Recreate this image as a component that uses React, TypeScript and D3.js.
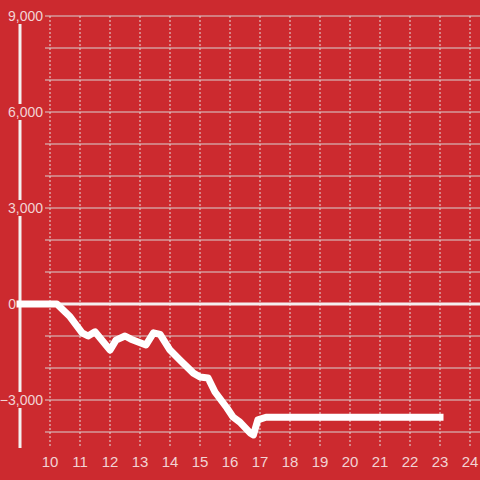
import React from "react";
import * as d3 from "d3";

const hours = [9, 10.23, 10.67, 11.07, 11.27, 11.5, 12.0, 12.2, 12.5, 12.7, 13.2, 13.45, 13.67, 14.0, 14.33, 14.78, 15.0, 15.27, 15.5, 15.9, 16.1, 16.33, 16.67, 16.78, 16.93, 17.2, 23];
const values = [0, 0, -400, -900, -1000, -870, -1440, -1130, -1000, -1100, -1280, -900, -950, -1440, -1750, -2160, -2280, -2310, -2750, -3250, -3530, -3690, -4030, -4090, -3620, -3540, -3540];
const xTicks = [10, 11, 12, 13, 14, 15, 16, 17, 18, 19, 20, 21, 22, 23, 24];
const yGrid = [-4000, -3000, -2000, -1000, 1000, 2000, 3000, 4000, 5000, 6000, 7000, 8000, 9000];
const yLabels = [-3000, 0, 3000, 6000, 9000];

const BG = "#cc2a2f";
const TEXT = "#f2d3d4";

export default function App() {
  const x = d3.scaleLinear().domain([10, 24]).range([50, 470]);
  const y = d3.scaleLinear().domain([-3000, 9000]).range([400, 16]);
  const pts: [number, number][] = hours.map((h, i) => [h, values[i]]);
  const line = d3
    .line<[number, number]>()
    .x((d) => x(d[0]))
    .y((d) => y(d[1]))
    .curve(d3.curveLinear);
  const fmt = d3.format(",");
  return (
    <div style={{ position: "fixed", left: 0, top: 0 }}>
      <svg width={480} height={480} style={{ display: "block", fontFamily: "Liberation Sans, Arial, sans-serif" }}>
        <rect width={480} height={480} fill={BG} />
        {xTicks.map((t) => (
          <line key={"vx" + t} x1={x(t)} x2={x(t)} y1={y(9000)} y2={448} stroke="#e6dede" strokeWidth={1} strokeDasharray="2,2" />
        ))}
        {yGrid.map((t) => (
          <line key={"hy" + t} x1={45} x2={480} y1={y(t)} y2={y(t)} stroke="#d9d2d2" strokeWidth={1} />
        ))}
        <line x1={x(9)} x2={x(9)} y1={y(9000)} y2={448} stroke="#f4f0f0" strokeWidth={3} />
        <line x1={18} x2={480} y1={y(0)} y2={y(0)} stroke="#f4f0f0" strokeWidth={3} />
        {yLabels.filter((t) => t !== 0).map((t) => (
          <rect key={"bg" + t} x={0} y={y(t) - 8} width={44} height={16} fill={BG} />
        ))}
        {yLabels.map((t) => (
          <text key={"yl" + t} x={t === 0 ? 16 : 43} y={y(t)} dy="0.36em" textAnchor="end" fontSize={14} fill={TEXT}>
            {fmt(t)}
          </text>
        ))}
        {xTicks.map((t) => (
          <text key={"xl" + t} x={x(t)} y={467} textAnchor="middle" fontSize={15} fill={TEXT}>
            {t}
          </text>
        ))}
        <path d={line(pts) || ""} fill="none" stroke="#ffffff" strokeWidth={7} strokeLinejoin="round" strokeLinecap="square" />
      </svg>
    </div>
  );
}
